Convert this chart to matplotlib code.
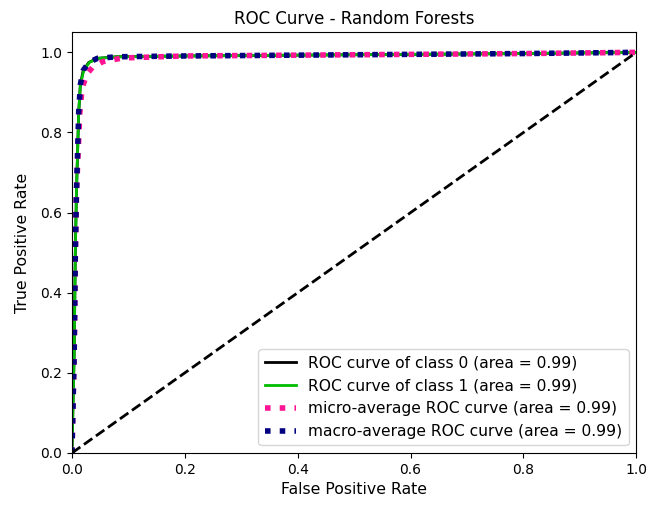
import matplotlib
matplotlib.use("Agg")
import matplotlib.pyplot as plt
import numpy as np

# ROC points
fpr_0 = [0.0, 0.004, 0.006, 0.008, 0.010, 0.012, 0.015, 0.020, 0.030, 0.045, 0.08, 0.2, 0.5, 0.8, 1.0]
tpr_0 = [0.0, 0.25, 0.50, 0.65, 0.75, 0.85, 0.92, 0.955, 0.975, 0.985, 0.989, 0.991, 0.994, 0.997, 1.0]
fpr_1 = [0.0, 0.004, 0.006, 0.008, 0.010, 0.012, 0.015, 0.021, 0.031, 0.046, 0.08, 0.2, 0.5, 0.8, 1.0]
tpr_1 = [0.0, 0.25, 0.50, 0.65, 0.75, 0.85, 0.92, 0.955, 0.975, 0.985, 0.989, 0.991, 0.994, 0.997, 1.0]
fpr_micro = [0.0, 0.004, 0.006, 0.008, 0.011, 0.014, 0.018, 0.026, 0.036, 0.055, 0.09, 0.2, 0.5, 0.8, 1.0]
tpr_micro = [0.0, 0.25, 0.50, 0.65, 0.75, 0.85, 0.91, 0.945, 0.962, 0.977, 0.986, 0.991, 0.994, 0.997, 1.0]
fpr_macro = [0.0, 0.004, 0.006, 0.008, 0.010, 0.012, 0.015, 0.020, 0.030, 0.045, 0.08, 0.2, 0.5, 0.8, 1.0]
tpr_macro = [0.0, 0.25, 0.50, 0.65, 0.75, 0.85, 0.92, 0.955, 0.975, 0.985, 0.989, 0.991, 0.994, 0.997, 1.0]
labels = ['ROC curve of class 0 (area = 0.99)',
          'ROC curve of class 1 (area = 0.99)',
          'micro-average ROC curve (area = 0.99)',
          'macro-average ROC curve (area = 0.99)']

fig, ax = plt.subplots(figsize=(6.48, 5.05), dpi=100)
cmap = plt.get_cmap('nipy_spectral')
ax.plot(fpr_0, tpr_0, lw=2, color=cmap(0.0), label=labels[0])
ax.plot(fpr_1, tpr_1, lw=2, color=cmap(0.5), label=labels[1])
ax.plot(fpr_micro, tpr_micro, color='deeppink', linestyle=':', linewidth=4, label=labels[2])
ax.plot(fpr_macro, tpr_macro, color='navy', linestyle=':', linewidth=4, label=labels[3])
ax.plot([0, 1], [0, 1], 'k--', lw=2)

ax.set_xlim([0.0, 1.0])
ax.set_ylim([0.0, 1.05])
ax.set_xlabel('False Positive Rate', fontsize=11.3)
ax.set_ylabel('True Positive Rate', fontsize=11.3, labelpad=7.5)
ax.set_title('ROC Curve - Random Forests', fontsize=12)
ax.legend(loc='lower right', fontsize=11.2)

plt.subplots_adjust(left=0.111, right=0.982, top=0.936, bottom=0.103)
plt.savefig('out.png', dpi=100)
